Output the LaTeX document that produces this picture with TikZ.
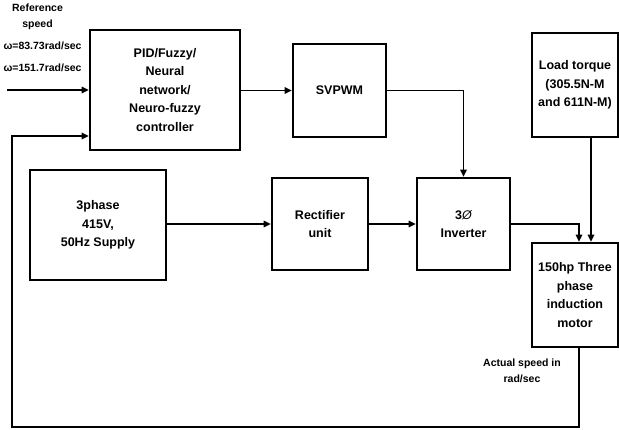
\documentclass[tikz,border=0pt]{standalone}
\usepackage{fontspec}
\setmainfont{Liberation Sans}
\usetikzlibrary{arrows.meta,positioning,calc}

\begin{document}
\begin{tikzpicture}[x=1pt,y=-1pt,
    font=\bfseries\fontsize{12.5}{18.5}\selectfont,
    blk/.style={draw,line width=2.6pt,inner sep=2pt,align=center},
    lbl/.style={font=\bfseries\fontsize{10.5}{15.5}\selectfont,align=center},
    wire/.style={line width=1.2pt,-{Triangle[length=7pt,width=6.5pt]}}]
  \useasboundingbox (0,0) rectangle (619,429);

  % blocks
  \node[blk,minimum width=150pt,minimum height=120pt] (ctrl) at (165,90)
       {PID/Fuzzy/\\Neural\\network/\\Neuro-fuzzy\\controller};
  \node[blk,minimum width=93pt,minimum height=93pt] (svpwm) at (339.5,90.5) {SVPWM};
  \node[blk,minimum width=86pt,minimum height=104pt] (load) at (575,85)
       {Load torque\\(305.5N-M\\and 611N-M)};
  \node[blk,minimum width=136pt,minimum height=110pt] (supply) at (98,225)
       {3phase\\415V,\\50Hz Supply};
  \node[blk,minimum width=96pt,minimum height=92pt] (rect) at (320,224) {Rectifier\\unit};
  \node[blk,minimum width=93pt,minimum height=92pt] (inv) at (463.5,224)
       {3{\mdseries\itshape Ø}\\Inverter};
  \node[blk,minimum width=86pt,minimum height=104pt] (motor) at (575,295)
       {150hp Three\\phase\\induction\\motor};

  % labels
  \node[lbl,font=\bfseries\fontsize{10.5}{16}\selectfont] (refname) at (37.5,17) {Reference\\speed};
  \node[lbl,align=left,anchor=west,font=\bfseries\fontsize{10.5}{22}\selectfont] (refval) at (0,57)
       {ω=83.73rad/sec\\ω=151.7rad/sec};
  \node[lbl] (actual) at (522,371) {Actual speed in\\rad/sec};

  % connectors
  \coordinate (refin) at (7,90);
  \coordinate (fbcorner) at (12,427);
  \draw[wire] (refin) -- (ctrl.west);
  \draw[wire] (ctrl.east |- svpwm.west) -- (svpwm.west);
  \draw[wire] (svpwm.east) -| (inv.north);
  \draw[wire] (supply.east |- rect.west) -- (rect.west);
  \draw[wire] (rect.east) -- (inv.west);
  \draw[wire] (inv.east) -| ([xshift=4pt]motor.north);
  \draw[wire] ([xshift=16pt]load.south) -- ([xshift=16pt]motor.north);
  \draw[wire] ([xshift=4pt]motor.south) |- (fbcorner) |- ([yshift=-46pt]ctrl.west);
\end{tikzpicture}
\end{document}
